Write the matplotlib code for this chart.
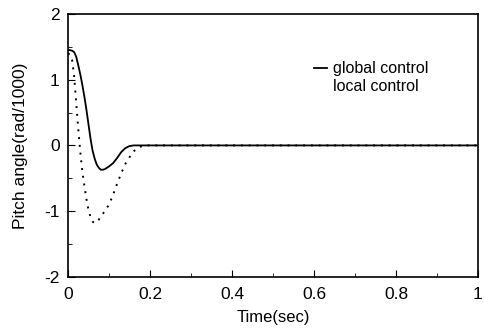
import matplotlib.pyplot as plt
from matplotlib.ticker import MultipleLocator

plt.rcParams['font.family'] = ['Liberation Sans', 'DejaVu Sans']
plt.rcParams['axes.unicode_minus'] = False

# global control (solid)
t_global = [0, 0.005, 0.01, 0.015, 0.02, 0.025, 0.03, 0.035, 0.04, 0.045, 0.05,
            0.055, 0.06, 0.065, 0.07, 0.075, 0.08, 0.085, 0.09, 0.1, 0.11, 0.12,
            0.13, 0.14, 0.15, 0.16, 1.0]
p_global = [1.45, 1.45, 1.44, 1.42, 1.35, 1.22, 1.08, 0.92, 0.74, 0.54, 0.32,
            0.10, -0.08, -0.20, -0.29, -0.34, -0.37, -0.37, -0.36, -0.32, -0.27, -0.19,
            -0.10, -0.04, -0.01, 0.0, 0.0]

# local control (dotted)
t_local = [0, 0.005, 0.01, 0.015, 0.02, 0.025, 0.03, 0.035, 0.04, 0.045, 0.05,
           0.055, 0.06, 0.065, 0.07, 0.075, 0.08, 0.09, 0.1, 0.11, 0.12, 0.13,
           0.14, 0.15, 0.16, 0.17, 0.18, 0.19, 1.0]
p_local = [1.40, 1.38, 1.30, 1.05, 0.65, 0.25, -0.10, -0.40, -0.62, -0.82, -0.98,
           -1.09, -1.16, -1.18, -1.17, -1.13, -1.08, -1.00, -0.90, -0.75, -0.58, -0.42,
           -0.28, -0.18, -0.09, -0.04, -0.01, 0.0, 0.0]

fig = plt.figure(figsize=(4.84, 3.32), dpi=100)
ax = fig.add_axes([0.1405, 0.166, 0.847, 0.792])
ax.plot(t_global, p_global, color='black', lw=1.3, label='global control')
ax.plot(t_local, p_local, color='black', lw=1.4, linestyle=(0, (1, 3)), label='local control')

ax.set_xlim(0, 1)
ax.set_ylim(-2, 2)
ax.xaxis.set_major_locator(MultipleLocator(0.2))
ax.xaxis.set_minor_locator(MultipleLocator(0.1))
ax.yaxis.set_major_locator(MultipleLocator(1))
ax.yaxis.set_minor_locator(MultipleLocator(0.5))
ax.set_xticks([0, 0.2, 0.4, 0.6, 0.8, 1])
ax.set_xticklabels(['0', '0.2', '0.4', '0.6', '0.8', '1'])
ax.tick_params(which='both', direction='in', labelsize=12.5)
ax.tick_params(axis='x', pad=7)
ax.tick_params(axis='y', pad=6)
ax.tick_params(which='major', length=5)
ax.tick_params(which='minor', length=3)
for s in ax.spines.values():
    s.set_linewidth(1.2)

ax.set_xlabel('Time(sec)', fontsize=12, labelpad=6)
ax.set_ylabel('Pitch angle(rad/1000)', fontsize=12.5, labelpad=12)

leg = ax.legend(loc='upper left', bbox_to_anchor=(0.565, 0.875), frameon=False,
                handlelength=0.8, handletextpad=0.4, fontsize=11.5, labelspacing=0.2)
leg.legend_handles[1].set_visible(False)

plt.savefig('out.png', dpi=100)
